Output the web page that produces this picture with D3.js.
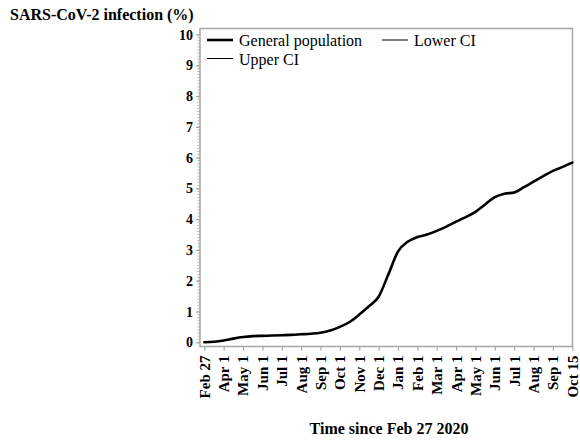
<!DOCTYPE html>
<html>
<head>
<meta charset="utf-8">
<script src="https://cdn.jsdelivr.net/npm/d3@7"></script>
<style>
  body { margin: 0; background: #fff; }
</style>
</head>
<body>
<div class="chart"></div>
<script>
// tick labels along the time axis (evenly spaced, index based)
var tickLabels = ['Feb 27', 'Apr 1', 'May 1', 'Jun 1', 'Jul 1', 'Aug 1', 'Sep 1', 'Oct 1', 'Nov 1', 'Dec 1',
                  'Jan 1', 'Feb 1', 'Mar 1', 'Apr 1', 'May 1', 'Jun 1', 'Jul 1', 'Aug 1', 'Sep 1', 'Oct 15'];
var yTicks = [0, 1, 2, 3, 4, 5, 6, 7, 8, 9, 10];

// general population curve, position in tick units
var timePos = [0, 0.5, 1, 1.5, 2, 2.5, 3, 3.5, 4, 4.5, 5, 5.5, 6, 6.5, 7, 7.5, 8, 8.5, 9, 9.5,
               10, 10.5, 11, 11.5, 12, 12.5, 13, 13.5, 14, 14.5, 15, 15.5, 16, 16.5, 17, 17.5, 18, 18.5, 19];
var infection = [0.00, 0.02, 0.06, 0.12, 0.17, 0.20, 0.21, 0.22, 0.23, 0.24, 0.26, 0.28, 0.31, 0.38, 0.50, 0.66,
                 0.90, 1.17, 1.48, 2.20, 2.95, 3.27, 3.42, 3.50, 3.62, 3.76, 3.92, 4.07, 4.24, 4.48, 4.72, 4.83,
                 4.87, 5.04, 5.22, 5.40, 5.57, 5.70, 5.84];

var legendItems = [{ name: 'General population', width: 2.6 },
                   { name: 'Lower CI', width: 1 },
                   { name: 'Upper CI', width: 1 }];

var FONT = '"Liberation Serif", "Times New Roman", Times, serif';

var svg = d3.select(".chart").append("svg")
  .attr("width", 580).attr("height", 442)
  .attr("font-family", FONT);

var frame = { left: 200, right: 572.5, top: 28.5, bottom: 346.5 };

var x = d3.scaleLinear().domain([0, tickLabels.length - 1]).range([204.3, 572.3]);
var y = d3.scaleLinear().domain([0, 10]).range([342.3, 34.6]);

// title
svg.append("text").attr("x", 10).attr("y", 19.5)
  .attr("font-family", FONT).attr("font-size", 16).attr("font-weight", "bold")
  .text("SARS-CoV-2 infection (%)");

// frame
svg.append("rect")
  .attr("x", frame.left).attr("y", frame.top)
  .attr("width", frame.right - frame.left).attr("height", frame.bottom - frame.top)
  .attr("fill", "none").attr("stroke", "#a6a6a6").attr("stroke-width", 1.5);

// y minor ticks
svg.append("g").selectAll("line")
  .data(d3.range(0, 101).map(d => d / 10))
  .join("line")
  .attr("x1", frame.left - 2.5).attr("x2", frame.left)
  .attr("y1", d => y(d)).attr("y2", d => y(d))
  .attr("stroke", "#b0b0b0").attr("stroke-width", 1);

// y axis
var yAxis = svg.append("g").attr("transform", `translate(${frame.left},0)`)
  .call(d3.axisLeft(y).tickValues(yTicks).tickSize(4).tickPadding(3))
  .attr("font-family", FONT).attr("font-size", 14).attr("font-weight", "bold");
yAxis.select(".domain").remove();
yAxis.selectAll("line").attr("stroke", "#a6a6a6").attr("stroke-width", 1.2);
yAxis.selectAll("text").attr("fill", "#000");

// x axis
var xAxis = svg.append("g").attr("transform", `translate(0,${frame.bottom})`)
  .call(d3.axisBottom(x).tickValues(d3.range(tickLabels.length))
    .tickFormat(i => tickLabels[i]).tickSize(4))
  .attr("font-family", FONT).attr("font-size", 15).attr("font-weight", "bold");
xAxis.select(".domain").remove();
xAxis.selectAll("line").attr("stroke", "#a6a6a6").attr("stroke-width", 1.2);
xAxis.selectAll("text")
  .attr("fill", "#000")
  .attr("text-anchor", "end")
  .attr("transform", "rotate(-90)")
  .attr("x", -9).attr("y", 0).attr("dy", "0.33em");

svg.append("text").attr("x", 389).attr("y", 434)
  .attr("text-anchor", "middle")
  .attr("font-family", FONT).attr("font-size", 16).attr("font-weight", "bold")
  .text("Time since Feb 27 2020");

// curve
var line = d3.line()
  .x(d => x(d[0])).y(d => y(d[1]))
  .curve(d3.curveMonotoneX);
svg.append("path")
  .datum(timePos.map((t, i) => [t, infection[i]]))
  .attr("d", line)
  .attr("fill", "none").attr("stroke", "#000").attr("stroke-width", 2.6)
  .attr("stroke-linejoin", "round").attr("stroke-linecap", "round");

// legend
var legendPos = [[207, 40], [382, 40], [207, 58.5]];
legendItems.forEach((item, i) => {
  var p = legendPos[i];
  svg.append("line").attr("x1", p[0]).attr("x2", p[0] + 26).attr("y1", p[1]).attr("y2", p[1])
    .attr("stroke", "#000").attr("stroke-width", item.width);
  svg.append("text").attr("x", p[0] + 32).attr("y", p[1] + 6)
    .attr("font-family", FONT).attr("font-size", 16).text(item.name);
});
</script>
</body>
</html>
